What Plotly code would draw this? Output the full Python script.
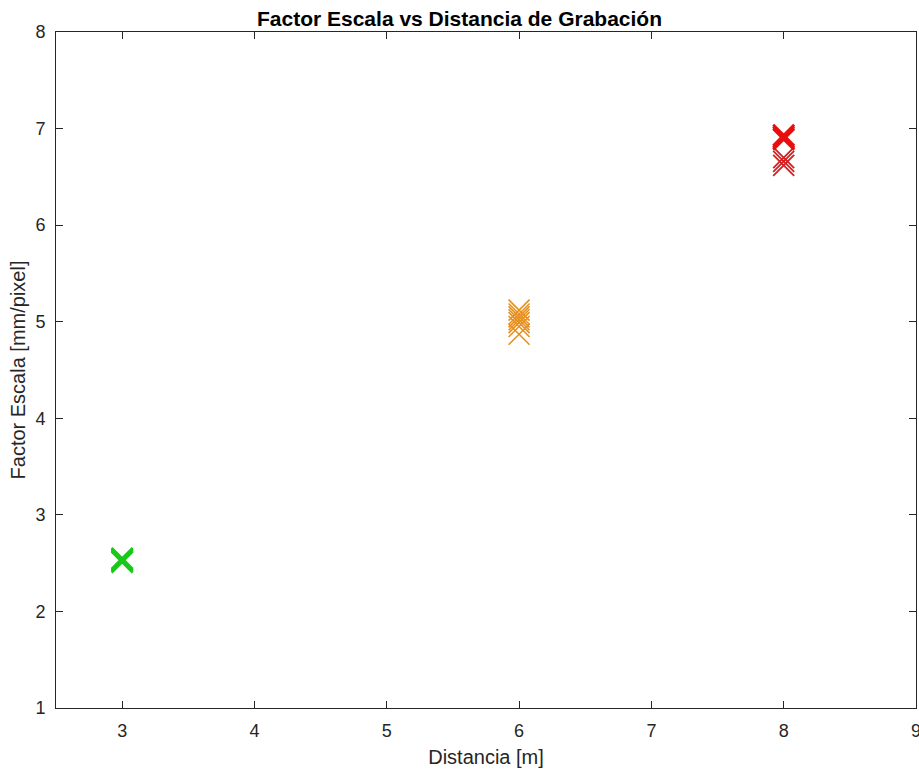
import plotly.graph_objects as go

# Data
dist_3m = [3, 3, 3, 3, 3]
fe_3m = [2.51, 2.53, 2.54, 2.55, 2.52]
dist_6m = [6, 6, 6, 6, 6, 6, 6]
fe_6m = [4.87, 4.95, 4.99, 5.02, 5.05, 5.08, 5.12]
dist_8m_a = [8, 8, 8]
fe_8m_a = [6.89, 6.91, 6.93]
dist_8m_b = [8, 8, 8]
fe_8m_b = [6.62, 6.66, 6.70]

x_ticks = [3, 4, 5, 6, 7, 8, 9]
y_ticks = [1, 2, 3, 4, 5, 6, 7, 8]

fig = go.Figure()

def add(xs, ys, color, width):
    fig.add_trace(go.Scatter(
        x=xs, y=ys, mode="markers",
        marker=dict(symbol="x-thin-open", size=21, color=color,
                    line=dict(color=color, width=width)),
        showlegend=False))

add(dist_3m, fe_3m, "#19C919", 2.5)
add(dist_6m, fe_6m, "#E8901E", 1.6)
add(dist_8m_b, fe_8m_b, "#D42020", 1.8)
add(dist_8m_a, fe_8m_a, "#E80E0E", 2.8)

FONT = "Liberation Sans, Arial"
axis_common = dict(
    showgrid=False, zeroline=False, showline=True, linecolor="#262626",
    linewidth=1, mirror="ticks", ticks="inside", ticklen=7, automargin=False,
    ticklabeloverflow="allow",
    tickcolor="#262626", tickfont=dict(family=FONT, size=18, color="#262626"),
)

fig.update_layout(
    width=919, height=770,
    margin=dict(l=56, r=3, t=32, b=62),
    paper_bgcolor="white", plot_bgcolor="white",
    title=dict(text="<b>Factor Escala vs Distancia de Grabación</b>",
               x=0.5, xanchor="center", y=0.976, yanchor="middle",
               font=dict(family=FONT, size=21, color="black")),
    xaxis=dict(range=[2.5, 9], tickvals=x_ticks, ticklabelstandoff=6,
               title=dict(text="Distancia [m]", standoff=10,
                          font=dict(family=FONT, size=20, color="#262626")),
               **axis_common),
    yaxis=dict(range=[1, 8], tickvals=y_ticks, ticklabelstandoff=6,
               title=dict(text="Factor Escala [mm/pixel]", standoff=4,
                          font=dict(family=FONT, size=20, color="#262626")),
               **axis_common),
)

fig.write_html("out.html", config={"displayModeBar": False},
               post_script="document.body.style.margin='0';document.body.style.overflow='hidden';")
